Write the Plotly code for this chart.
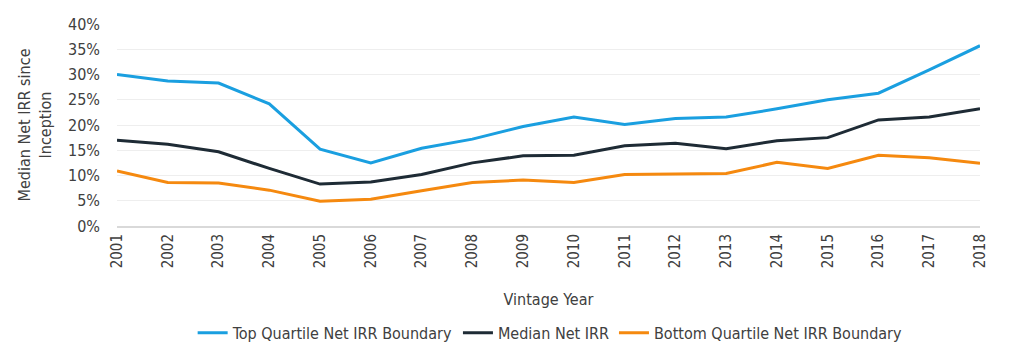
import plotly.graph_objects as go

years = list(range(2001, 2019))
top_quartile = [30.0, 28.7, 28.3, 24.2, 15.2, 12.5, 15.4, 17.2, 19.7, 21.6, 20.1, 21.3, 21.6, 23.2, 25.0, 26.3, 30.9, 35.7]
median_irr = [17.0, 16.2, 14.7, 11.4, 8.3, 8.7, 10.2, 12.5, 13.9, 14.0, 15.9, 16.4, 15.3, 16.9, 17.5, 21.0, 21.6, 23.2]
bottom_quartile = [10.9, 8.6, 8.5, 7.1, 4.9, 5.3, 7.0, 8.6, 9.1, 8.6, 10.2, 10.3, 10.4, 12.6, 11.4, 14.0, 13.5, 12.4]
series_names = ["Top Quartile Net IRR Boundary", "Median Net IRR", "Bottom Quartile Net IRR Boundary"]
y_ticks = [0, 5, 10, 15, 20, 25, 30, 35, 40]
colors = ["#1a9fe0", "#1e2b35", "#f5890f"]

font_family = "DejaVu Sans Condensed, Liberation Sans Narrow, Roboto, sans-serif"
text_color = "#404040"

fig = go.Figure()
for name, vals, col in zip(series_names, [top_quartile, median_irr, bottom_quartile], colors):
    fig.add_trace(go.Scatter(x=years, y=vals, name=name, mode="lines",
                             line=dict(color=col, width=3), cliponaxis=False))

fig.update_layout(
    width=1021, height=357,
    margin=dict(l=109, r=49, t=16, b=139, autoexpand=False),
    paper_bgcolor="white", plot_bgcolor="white",
    font=dict(family=font_family, size=15, color=text_color),
    showlegend=True,
    legend=dict(orientation="h", x=0.531, xanchor="center", xref="container",
                y=0.09, yanchor="middle", yref="container",
                font=dict(size=16), itemwidth=30, tracegroupgap=0),
    xaxis=dict(range=[2001, 2018], tickvals=years, ticktext=[str(y) for y in years],
               tickangle=-90, showgrid=False, showline=True, linecolor="#d9d9d9", linewidth=2,
               zeroline=False, ticks="", tickfont=dict(size=15), automargin=False,
               title=dict(text="Vintage Year", font=dict(size=16), standoff=26)),
    yaxis=dict(range=[0, 40], tickvals=y_ticks,
               ticktext=[f"{v}%" for v in y_ticks],
               showgrid=True, gridcolor="#eeeeee", gridwidth=1, zeroline=False,
               ticks="", tickfont=dict(size=16), showline=False, automargin=False,
               ticklabelstandoff=16,
               title=dict(text="Median Net IRR since<br>Inception", font=dict(size=16), standoff=12)),
)

fig.write_html("out.html")
